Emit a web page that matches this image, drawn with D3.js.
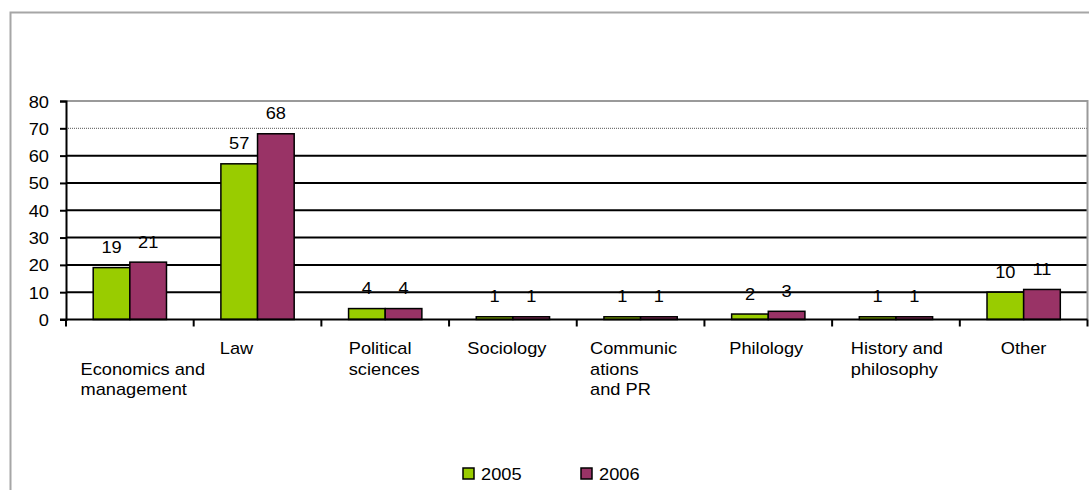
<!DOCTYPE html>
<html>
<head>
<meta charset="utf-8">
<script src="https://cdn.jsdelivr.net/npm/d3@7"></script>
<style>
  html, body { margin: 0; padding: 0; background: #fff; }
  svg { display: block; }
  text { font-family: "Liberation Sans", Arial, sans-serif; font-size: 16px; fill: #000; }
</style>
</head>
<body>
<svg id="chart" width="1089" height="490"></svg>
<script>
// Graduates by field of study, 2005 vs 2006
const categories = [
  ["", "Economics and", "management"],
  ["Law"],
  ["Political", "sciences"],
  ["Sociology"],
  ["Communic", "ations", "and PR"],
  ["Philology"],
  ["History and", "philosophy"],
  ["Other"]
];
const seriesNames = ["2005", "2006"];
const values2005 = [19, 57, 4, 1, 1, 2, 1, 10];
const values2006 = [21, 68, 4, 1, 1, 3, 1, 11];
const yTickValues = [0, 10, 20, 30, 40, 50, 60, 70, 80];

// layout
const colors = ["#99cc00", "#993366"];
const labelShift = [13, -21, -1, -6, -7, -2, 1, 0];
const sx = 1.14;                      // horizontal stretch of the lettering
const plot = { left: 66, right: 1087.5, top: 101, bottom: 319.5 };

const svg = d3.select("#chart");

// outer frame
svg.append("rect")
  .attr("x", 10.5).attr("y", 12.5).attr("width", 1100).attr("height", 500)
  .attr("fill", "#fff").attr("stroke", "#a6a6a6").attr("stroke-width", 2);

const x = d3.scaleBand()
  .domain(d3.range(categories.length))
  .range([plot.left, plot.right])
  .paddingInner(0.426).paddingOuter(0.213);
const xCat = d3.scaleBand()
  .domain(d3.range(categories.length))
  .range([plot.left, plot.right]);
const xSub = d3.scaleBand().domain(seriesNames).range([0, x.bandwidth()]);
const y = d3.scaleLinear().domain([0, 80]).range([plot.bottom, plot.top]);

// gridlines
svg.append("g").selectAll("line")
  .data(yTickValues.filter(v => v > 0 && v < 80))
  .join("line")
  .attr("x1", plot.left).attr("x2", plot.right)
  .attr("y1", d => y(d)).attr("y2", d => y(d))
  .attr("stroke", d => d === 70 ? "#555" : "#000")
  .attr("stroke-width", d => d === 70 ? 1 : 2)
  .attr("stroke-dasharray", d => d === 70 ? "1,1" : null);

// plot frame (top and right)
svg.append("path")
  .attr("d", `M${plot.left},${y(80)}H${plot.right}V${plot.bottom}`)
  .attr("fill", "none").attr("stroke", "#9a9a9a").attr("stroke-width", 2);

// bars
const data = categories.map((c, i) => ({ i, vals: [values2005[i], values2006[i]] }));
const groups = svg.append("g").selectAll("g")
  .data(data).join("g")
  .attr("transform", d => `translate(${x(d.i)},0)`);

groups.selectAll("rect")
  .data(d => d.vals.map((v, k) => ({ v, k })))
  .join("rect")
  .attr("x", d => xSub(seriesNames[d.k]))
  .attr("width", xSub.bandwidth())
  .attr("y", d => y(d.v))
  .attr("height", d => y(0) - y(d.v))
  .attr("fill", d => colors[d.k])
  .attr("stroke", "#000").attr("stroke-width", 1.5);

// value labels
groups.selectAll("text")
  .data(d => d.vals.map((v, k) => ({ v, k })))
  .join("text")
  .attr("text-anchor", "middle")
  .attr("transform", d => `translate(${xSub(seriesNames[d.k]) + xSub.bandwidth() / 2},${y(d.v) - 14.5}) scale(${sx},1)`)
  .text(d => d.v);

// y axis
const yAxis = svg.append("g")
  .attr("transform", `translate(${plot.left},0)`)
  .call(d3.axisLeft(y).tickValues(yTickValues).tickSize(6).tickPadding(0).tickFormat(d3.format("d")));
yAxis.select(".domain").attr("stroke", "#000").attr("stroke-width", 2);
yAxis.selectAll(".tick line").attr("stroke", "#000").attr("stroke-width", 2);
yAxis.selectAll(".tick text")
  .attr("x", null).attr("dy", null)
  .attr("font-size", null).attr("font-family", null)
  .attr("text-anchor", "end")
  .attr("transform", `translate(-17,6) scale(${sx},1)`);

// x axis with ticks at category boundaries
const xAxis = svg.append("g")
  .attr("transform", `translate(0,${plot.bottom})`);
xAxis.append("line")
  .attr("x1", plot.left - 6).attr("x2", plot.right)
  .attr("stroke", "#000").attr("stroke-width", 2);
xAxis.selectAll("line.tick")
  .data(d3.range(categories.length + 1))
  .join("line").attr("class", "tick")
  .attr("x1", d => d < categories.length ? xCat(d) : plot.right)
  .attr("x2", d => d < categories.length ? xCat(d) : plot.right)
  .attr("y1", 0).attr("y2", 7)
  .attr("stroke", "#000").attr("stroke-width", 2);

// category labels: left-aligned blocks centred under each category
const lineH = 20.5;
categories.forEach((lines, i) => {
  const g = svg.append("g");
  const texts = lines.map((t, j) => g.append("text")
    .attr("text-anchor", "start")
    .text(t));
  const w = d3.max(texts, t => t.node().getComputedTextLength()) * sx;
  const left = xCat(i) + xCat.bandwidth() / 2 - w / 2 + labelShift[i];
  texts.forEach((t, j) => t.attr("transform", `translate(${left},${354 + j * lineH}) scale(${sx},1)`));
});

// legend
const legend = svg.append("g").selectAll("g")
  .data(seriesNames).join("g")
  .attr("transform", (d, k) => `translate(${463 + k * 118},468)`);
legend.append("rect")
  .attr("width", 11).attr("height", 11)
  .attr("fill", (d, k) => colors[k])
  .attr("stroke", "#000").attr("stroke-width", 1.5);
legend.append("text")
  .attr("transform", `translate(18,11.5) scale(${sx},1)`)
  .text(d => d);
</script>
</body>
</html>
